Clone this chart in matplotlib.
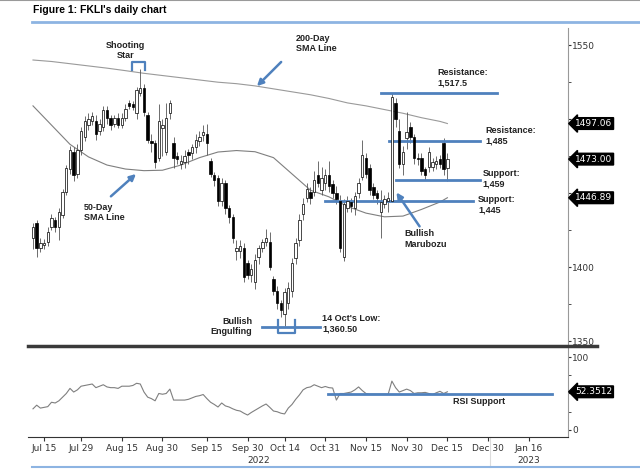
import numpy as np
import pandas as pd
import matplotlib
import matplotlib.pyplot as plt
from matplotlib.lines import Line2D
from matplotlib import font_manager as fm
import matplotlib.transforms as mtransforms

matplotlib.use('Agg')

plt.rcParams['font.family'] = ['Liberation Sans', 'DejaVu Sans']
installed = {f.name for f in fm.fontManager.ttflist}
NARROW = 'Liberation Sans Narrow' if 'Liberation Sans Narrow' in installed else 'DejaVu Sans'

# daily candles, first one on 12 Jul 2022
opens = [1420, 1430, 1413, 1415, 1417, 1427, 1432, 1427, 1435, 1451,
         1466, 1478, 1463, 1479, 1488, 1496, 1499, 1499, 1492, 1495,
         1506, 1501, 1497, 1501, 1496, 1501, 1511, 1510, 1504, 1518,
         1521, 1503, 1485, 1484, 1474, 1494, 1478, 1504, 1484, 1475,
         1470, 1471, 1478, 1477, 1481, 1485, 1489, 1490, 1472, 1462,
         1460, 1445, 1457, 1440, 1434, 1411, 1411, 1413, 1403, 1395,
         1390, 1407, 1413, 1417, 1417, 1392, 1384, 1376, 1368, 1376,
         1384, 1406, 1418, 1436, 1447, 1451, 1451, 1462, 1452, 1457,
         1462, 1456, 1450, 1445, 1407, 1440, 1444, 1440, 1450, 1461,
         1474, 1467, 1454, 1450, 1437, 1443, 1445, 1445, 1511, 1492,
         1470, 1487, 1495, 1488, 1474, 1474, 1466, 1468, 1468, 1470,
         1473, 1484, 1467]
highs = [1430, 1432, 1420, 1419, 1427, 1436, 1434, 1440, 1453, 1469,
         1482, 1481, 1483, 1495, 1502, 1504, 1505, 1503, 1500, 1509,
         1509, 1503, 1503, 1504, 1504, 1510, 1513, 1512, 1522, 1534,
         1524, 1505, 1490, 1486, 1510, 1500, 1511, 1513, 1488, 1478,
         1476, 1479, 1480, 1483, 1490, 1492, 1496, 1497, 1474, 1464,
         1462, 1460, 1459, 1442, 1436, 1418, 1418, 1416, 1405, 1402,
         1409, 1415, 1419, 1426, 1424, 1394, 1387, 1378, 1386, 1390,
         1406, 1420, 1436, 1447, 1457, 1454, 1465, 1472, 1468, 1466,
         1472, 1459, 1455, 1449, 1446, 1448, 1447, 1451, 1460, 1486,
         1477, 1470, 1457, 1452, 1452, 1449, 1451, 1517.5, 1514, 1500,
         1482, 1505, 1498, 1490, 1477, 1477, 1468, 1481, 1474, 1475,
         1476, 1487, 1477]
lows = [1412, 1407, 1410, 1412, 1414, 1425, 1424, 1418, 1433, 1449,
        1463, 1458, 1460, 1476, 1485, 1493, 1496, 1486, 1489, 1492,
        1497, 1493, 1495, 1494, 1494, 1499, 1507, 1506, 1500, 1516,
        1502, 1484, 1478, 1467, 1472, 1475, 1476, 1500, 1467, 1470,
        1466, 1467, 1470, 1473, 1477, 1482, 1485, 1476, 1461, 1455,
        1441, 1441, 1436, 1430, 1416, 1405, 1406, 1390, 1392, 1390,
        1385, 1402, 1410, 1414, 1398, 1381, 1372, 1366, 1360.5, 1372,
        1380, 1402, 1414, 1432, 1444, 1443, 1448, 1454, 1449, 1452,
        1451, 1447, 1443, 1410, 1404, 1437, 1437, 1435, 1447, 1459,
        1460, 1449, 1446, 1443, 1420, 1440, 1437, 1444, 1495, 1467,
        1462, 1480, 1484, 1470, 1469, 1462, 1459, 1464, 1465, 1466,
        1467, 1462, 1458]
closes = [1427, 1413, 1416, 1416, 1424, 1433, 1427, 1437, 1451, 1467,
          1479, 1462, 1479, 1492, 1499, 1500, 1502, 1490, 1497, 1506,
          1501, 1496, 1501, 1496, 1501, 1507, 1509, 1508, 1520, 1521,
          1505, 1486, 1484, 1471, 1499, 1496, 1501, 1511, 1474, 1473,
          1472, 1475, 1476, 1481, 1486, 1488, 1491, 1484, 1463, 1459,
          1445, 1457, 1440, 1434, 1420, 1413, 1414, 1393, 1395, 1399,
          1405, 1413, 1417, 1420, 1400, 1384, 1376, 1371, 1383, 1386,
          1403, 1416, 1432, 1443, 1453, 1447, 1459, 1457, 1460, 1462,
          1455, 1450, 1446, 1413, 1443, 1445, 1441, 1448, 1457, 1476,
          1463, 1452, 1449, 1447, 1444, 1446, 1447, 1515, 1500, 1470,
          1478, 1491, 1488, 1474, 1473, 1465, 1462, 1478, 1471, 1472,
          1470, 1466, 1473]

rsi = [29, 34, 30, 31, 32, 38, 37, 40, 45, 50,
       57, 52, 55, 60, 61, 62, 63, 58, 60, 62,
       59, 58, 58, 57, 60, 60, 60, 61, 64, 63,
       52, 45, 43, 40, 50, 49, 50, 56, 41, 41,
       41, 41, 42, 44, 46, 47, 48.6, 43, 38, 35,
       31.5, 37, 33, 31.5, 29, 27, 26, 23, 20.5, 24,
       27, 30, 33, 35.6, 31, 26, 25, 23, 22, 30,
       35, 42, 48, 55, 58, 59, 62, 60, 58, 59.6,
       58, 57.5, 41, 50, 50, 51, 52, 55, 59, 54,
       50, 49, 49, 49, 49, 49, 49, 67, 58, 52,
       54, 56, 54, 50, 51, 51, 51.5, 50, 48.6, 51,
       53, 50, 52.35]

sma_idx = [0, 5, 10, 15, 20, 25, 30, 35, 40, 45, 50, 55,
           60, 65, 70, 75, 80, 85, 90, 95, 100, 105, 110, 112]
sma50 = [1509, 1496, 1483, 1474.5, 1469, 1466.3, 1465.2, 1465.5, 1469, 1474, 1477.8, 1478.8,
         1478, 1474, 1463, 1452, 1447.5, 1441, 1436.5, 1434, 1434.5, 1439, 1444, 1446.89]
sma200 = [1540, 1539, 1537.5, 1536, 1534.5, 1532.8, 1531, 1529.5, 1528, 1526.5, 1525, 1524,
          1522.5, 1520.5, 1518.5, 1516.5, 1514, 1511, 1509, 1506.5, 1504, 1501, 1498.5, 1497.06]

tick_dates = ['2022-07-15', '2022-07-29', '2022-08-15', '2022-08-30', '2022-09-15',
              '2022-09-30', '2022-10-14', '2022-10-31', '2022-11-15', '2022-11-30',
              '2022-12-15', '2022-12-30', '2023-01-16']
tick_labels = ['Jul 15', 'Jul 29', 'Aug 15', 'Aug 30', 'Sep 15', 'Sep 30', 'Oct 14',
               'Oct 31', 'Nov 15', 'Nov 30', 'Dec 15', 'Dec 30', 'Jan 16']

BLUE = '#4F81BD'
dates = pd.bdate_range('2022-07-12', periods=150)
x = np.arange(len(closes))
o = np.array(opens)
c = np.array(closes)
up = c >= o

fig = plt.figure(figsize=(6.4, 4.7), dpi=100)
ax = fig.add_axes([0.04375, 0.268, 0.84375, 0.672])
ax2 = fig.add_axes([0.04375, 0.0702, 0.84375, 0.1915], sharex=ax)

# candles
ax.vlines(x, lows, highs, color='#555555', lw=0.6, zorder=2)
ax.bar(x[up], (c - o)[up], bottom=o[up], width=0.65, color='white',
       edgecolor='black', lw=0.5, zorder=3)
ax.bar(x[~up], (o - c)[~up], bottom=c[~up], width=0.65, color='black',
       edgecolor='black', lw=0.5, zorder=3)
ax.plot(sma_idx, sma50, color='#7f7f7f', lw=0.8, zorder=1)
ax.plot(sma_idx, sma200, color='#9a9a9a', lw=0.8, zorder=1)

ax.set_xlim(-1.35, 144.6)
ax.set_ylim(1348, 1561.5)
ax.yaxis.tick_right()
# 1450 and 1500 sit behind the value boxes, so their labels stay blank
ax.set_yticks([1350, 1400, 1450, 1500, 1550], ['1350', '1400', '', '', '1550'])
ax.set_yticks([1375, 1425, 1475, 1525], minor=True)
ax.tick_params(axis='y', which='both', direction='out', length=2, pad=1,
               labelsize=6.5, colors='#333333')
for t in ax.get_yticklabels():
    t.set_family(NARROW)
ax.tick_params(axis='x', which='both', bottom=False, labelbottom=False)
for s in ['top', 'left', 'bottom']:
    ax.spines[s].set_visible(False)
ax.spines['right'].set_color('#999999')

for val in [1497.06, 1473.00, 1446.89]:
    ax.annotate(f'{val:.2f}', xy=(1, val), xycoords=('axes fraction', 'data'),
                xytext=(5, 0), textcoords='offset points', va='center', ha='left',
                color='white', fontsize=6.5, family=NARROW,
                bbox=dict(boxstyle='larrow,pad=0.15', fc='black', ec='black'))

# annotations
bold = dict(fontsize=6.5, fontweight='bold', color='#222222')
ax.text(24.9, 1546.6, 'Shooting\nStar', ha='center', va='center', **bold)
ax.plot([26.8, 26.8, 30.2, 30.2], [1533, 1538.5, 1538.5, 1533], color=BLUE, lw=1.6)

ax.text(71.1, 1551, '200-Day\nSMA Line', ha='left', va='center', **bold)
ax.annotate('', xy=(60, 1521), xytext=(67.6, 1540),
            arrowprops=dict(arrowstyle='-|>', color=BLUE, lw=1.8, mutation_scale=9))

ax.text(13.8, 1437, '50-Day\nSMA Line', ha='left', va='center', **bold)
ax.annotate('', xy=(28.4, 1464.2), xytext=(20.5, 1446.6),
            arrowprops=dict(arrowstyle='-|>', color=BLUE, lw=1.8, mutation_scale=9))

ax.plot([94, 125.4], [1517.5, 1517.5], color=BLUE, lw=2)
ax.text(109.2, 1528, 'Resistance:\n1,517.5', ha='left', va='center', **bold)
ax.plot([96.2, 120.8], [1485, 1485], color=BLUE, lw=2)
ax.text(122.4, 1488.5, 'Resistance:\n1,485', ha='left', va='center', **bold)
ax.plot([98.1, 120.8], [1459, 1459], color=BLUE, lw=2)
ax.text(121.6, 1460, 'Support:\n1,459', ha='left', va='center', **bold)
ax.plot([78.9, 118.9], [1445, 1445], color=BLUE, lw=2)
ax.text(120.3, 1442, 'Support:\n1,445', ha='left', va='center', **bold)

ax.text(100.3, 1419, 'Bullish\nMarubozu', ha='left', va='center', **bold)
ax.annotate('', xy=(97.8, 1452), xytext=(104.9, 1426),
            arrowprops=dict(arrowstyle='-|>', color=BLUE, lw=1.8, mutation_scale=9))

ax.text(59.2, 1360, 'Bullish\nEngulfing', ha='right', va='center', **bold)
ax.plot([61.9, 77.6], [1359.5, 1359.5], color=BLUE, lw=2)
ax.plot([66.3, 66.3, 70.7, 70.7], [1364, 1355.4, 1355.4, 1364], color=BLUE, lw=1.6)
ax.text(78.1, 1361.5, "14 Oct's Low:\n1,360.50", ha='left', va='center', **bold)

# RSI panel
ax2.plot(x, rsi, color='#7f7f7f', lw=0.8)
ax2.set_ylim(-9.6, 113.7)
ax2.yaxis.tick_right()
ax2.set_yticks([0, 50, 100], ['0', '', '100'])
ax2.set_yticks([25, 75], minor=True)
ax2.tick_params(axis='y', which='both', direction='out', length=2, pad=1,
                labelsize=6.5, colors='#333333')
for t in ax2.get_yticklabels():
    t.set_family(NARROW)
for s in ['top', 'left']:
    ax2.spines[s].set_visible(False)
ax2.spines['right'].set_color('#999999')
ax2.spines['bottom'].set_color('#333333')
ax2.annotate('52.3512', xy=(1, rsi[-1]), xycoords=('axes fraction', 'data'),
             xytext=(5, 0), textcoords='offset points', va='center', ha='left',
             color='white', fontsize=6.5, family=NARROW,
             bbox=dict(boxstyle='larrow,pad=0.15', fc='black', ec='black'))
ax2.plot([79.7, 140.3], [49.3, 49.3], color=BLUE, lw=2)
ax2.text(113.5, 38.4, 'RSI Support', ha='left', va='center', **bold)

pos = dates.get_indexer(pd.to_datetime(tick_dates))
ax2.set_xticks(pos)
ax2.set_xticklabels(tick_labels)
ax2.tick_params(axis='x', direction='out', length=3, pad=2, labelsize=6.5,
                colors='#333333')
for t in ax2.get_xticklabels():
    t.set_family(NARROW)

year_split = 123.5
trans = mtransforms.blended_transform_factory(ax2.transData, ax2.transAxes)
ax2.add_line(Line2D([year_split, year_split], [0, -0.33], transform=trans,
                    color='#dddddd', lw=0.8, clip_on=False))
ax2.text((-1.35 + year_split) / 2, -0.26, '2022', transform=trans, ha='center',
         va='center', fontsize=6.5, family=NARROW, color='#333333')
ax2.text((year_split + 144.6) / 2, -0.26, '2023', transform=trans, ha='center',
         va='center', fontsize=6.5, family=NARROW, color='#333333')

# frame decorations
fig.add_artist(Line2D([28 / 640, 597 / 640], [1 - 345.5 / 470] * 2, color='#3a3a3a', lw=2.5))
fig.add_artist(Line2D([0, 1], [0.999, 0.999], color='#9a9a9a', lw=1.5))
fig.add_artist(Line2D([32 / 640, 1], [1 - 22 / 470] * 2, color='#8DB4E2', lw=2))
fig.add_artist(Line2D([32 / 640, 1], [1 - 467 / 470] * 2, color='#8DB4E2', lw=1.5))
fig.text(33 / 640, 1 - 10 / 470, "Figure 1: FKLI's daily chart", fontsize=7.5,
         fontweight='bold', va='center', ha='left')

fig.savefig('out.png', dpi=100)
